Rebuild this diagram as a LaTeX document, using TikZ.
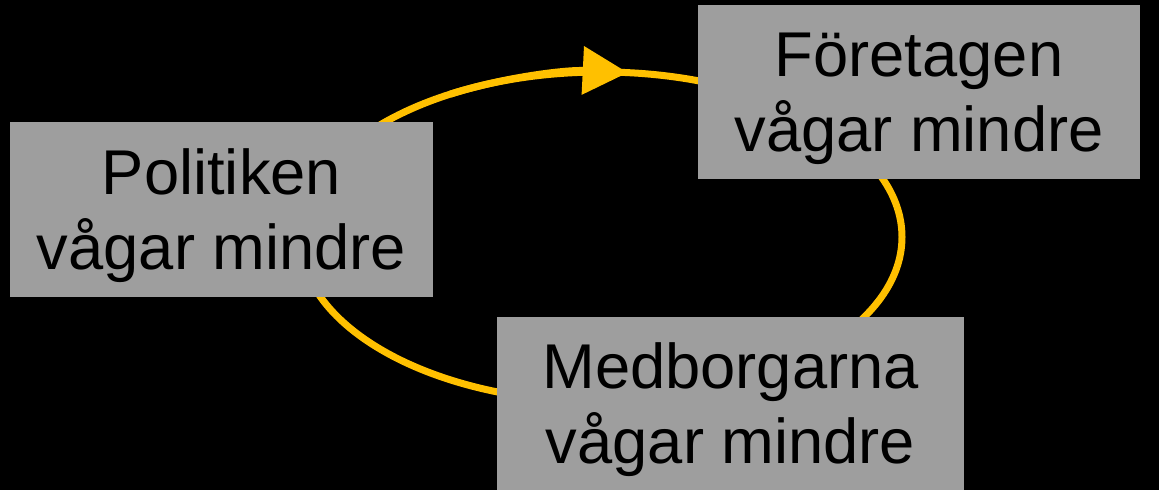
\documentclass[tikz,border=0pt]{standalone}
\usepackage{fontspec}
\setmainfont{Liberation Sans}
\usetikzlibrary{arrows.meta}
\definecolor{boxgray}{RGB}{158,158,158}
\definecolor{loopgold}{RGB}{255,192,0}
\tikzset{
  actor/.style={fill=boxgray, inner sep=0pt, align=center, text=black,
    text depth=0pt, font=\fontsize{45}{53.3}\selectfont},
  cycleline/.style={draw=loopgold, line width=0.175cm}
}
\begin{document}
\begin{tikzpicture}[x=0.025cm,y=0.025cm]
  \fill[black] (0,0) rectangle (1159,490);
  \useasboundingbox (0,0) rectangle (1159,490);
  % the loop behind the boxes
  \coordinate (loop) at (601,253);
  \draw[cycleline] (loop) ellipse [x radius=301, y radius=165];
  \draw[cycleline, -{Triangle[length=1.125cm, width=1.175cm]}]
    ([shift={(120:301 and 165)}]loop) arc[start angle=120, end angle=84.9, x radius=301, y radius=165];
  % the three boxes
  \node[actor, minimum width=10.575cm, minimum height=4.375cm] (politik) at (221.5,280.5) {Politiken\\vågar mindre};
  \node[actor, minimum width=11.05cm, minimum height=4.35cm] (foretag) at (919,398) {Företagen\\vågar mindre};
  \node[actor, minimum width=11.675cm, minimum height=4.325cm] (medborg) at (730.5,86.5) {Medborgarna\\vågar mindre};
\end{tikzpicture}
\end{document}
